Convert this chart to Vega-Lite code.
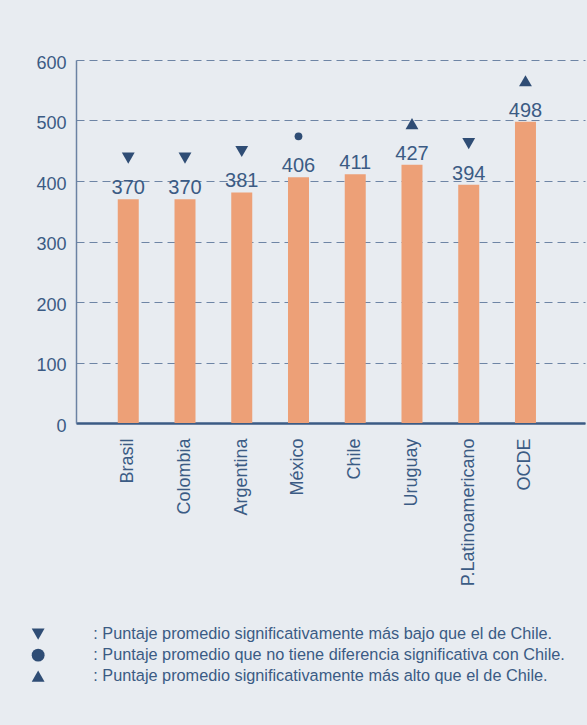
{
  "$schema": "https://vega.github.io/schema/vega-lite/v6.json",
  "width": 509,
  "height": 363,
  "autosize": "none",
  "padding": {"left": 76, "top": 60, "right": 2, "bottom": 302},
  "background": "#e8ecf1",
  "config": {"font": "Liberation Sans", "view": {"stroke": null}},
  "data": {
    "values": [
      {"pais": "Brasil", "puntaje": 370, "sig": "Puntaje promedio significativamente más bajo que el de Chile."},
      {"pais": "Colombia", "puntaje": 370, "sig": "Puntaje promedio significativamente más bajo que el de Chile."},
      {"pais": "Argentina", "puntaje": 381, "sig": "Puntaje promedio significativamente más bajo que el de Chile."},
      {"pais": "México", "puntaje": 406, "sig": "Puntaje promedio que no tiene diferencia significativa con Chile."},
      {"pais": "Chile", "puntaje": 411, "sig": null},
      {"pais": "Uruguay", "puntaje": 427, "sig": "Puntaje promedio significativamente más alto que el de Chile."},
      {"pais": "P.Latinoamericano", "puntaje": 394, "sig": "Puntaje promedio significativamente más bajo que el de Chile."},
      {"pais": "OCDE", "puntaje": 498, "sig": "Puntaje promedio significativamente más alto que el de Chile."}
    ]
  },
  "encoding": {
    "x": {
      "field": "pais",
      "type": "nominal",
      "sort": null,
      "scale": {"paddingInner": 0.63, "paddingOuter": 0.8, "align": 0.46},
      "axis": {
        "title": null,
        "labelAngle": -90,
        "labelAlign": "right",
        "labelBaseline": "middle",
        "labelFontSize": 18,
        "labelColor": "#3b5b84",
        "labelPadding": 15,
        "ticks": false,
        "domainColor": "#3b5b84",
        "domainWidth": 2.5,
        "grid": false
      }
    },
    "y": {
      "field": "puntaje",
      "type": "quantitative",
      "scale": {"domain": [0, 600], "nice": false},
      "axis": {
        "title": null,
        "values": [0, 100, 200, 300, 400, 500, 600],
        "labelFontSize": 18,
        "labelColor": "#3b5b84",
        "labelPadding": 10,
        "labelOffset": 3,
        "ticks": false,
        "domainColor": "#6b82a3",
        "domainWidth": 1.5,
        "grid": true,
        "gridColor": "#6e85a5",
        "gridDash": [8, 5],
        "gridWidth": 1
      }
    }
  },
  "layer": [
    {"mark": {"type": "bar", "color": "#eda077"}},
    {
      "mark": {"type": "text", "baseline": "bottom", "dy": -1, "fontSize": 20, "color": "#3b5b84"},
      "encoding": {"text": {"field": "puntaje", "type": "quantitative"}}
    },
    {
      "transform": [{"filter": "datum.sig != null"}],
      "mark": {"type": "point", "filled": true, "color": "#2f4d75", "opacity": 1, "yOffset": -41},
      "encoding": {
        "shape": {
          "field": "sig",
          "type": "nominal",
          "scale": {
            "domain": [
              "Puntaje promedio significativamente más bajo que el de Chile.",
              "Puntaje promedio que no tiene diferencia significativa con Chile.",
              "Puntaje promedio significativamente más alto que el de Chile."
            ],
            "range": ["triangle-down", "circle", "triangle-up"]
          },
          "legend": {
            "title": null,
            "orient": "none",
            "legendX": -46,
            "legendY": 566,
            "labelExpr": "':  ' + datum.label",
            "labelFontSize": 16.3,
            "labelColor": "#3b5b84",
            "labelLimit": 0,
            "labelOffset": 47,
            "rowPadding": 4,
            "symbolFillColor": "#2f4d75",
            "symbolStrokeWidth": 0,
            "symbolSize": 165,
            "encode": {
              "symbols": {
                "size": {"value": {"expr": "indexof('' + (datum.label || datum.value || (datum.datum && datum.datum.value) || ''), 'no tiene') >= 0 ? 55 : 165"}}
              }
            }
          }
        },
        "size": {
          "condition": {"test": "indexof(datum.sig, 'no tiene') >= 0", "value": 60},
          "value": 165
        }
      }
    }
  ]
}
